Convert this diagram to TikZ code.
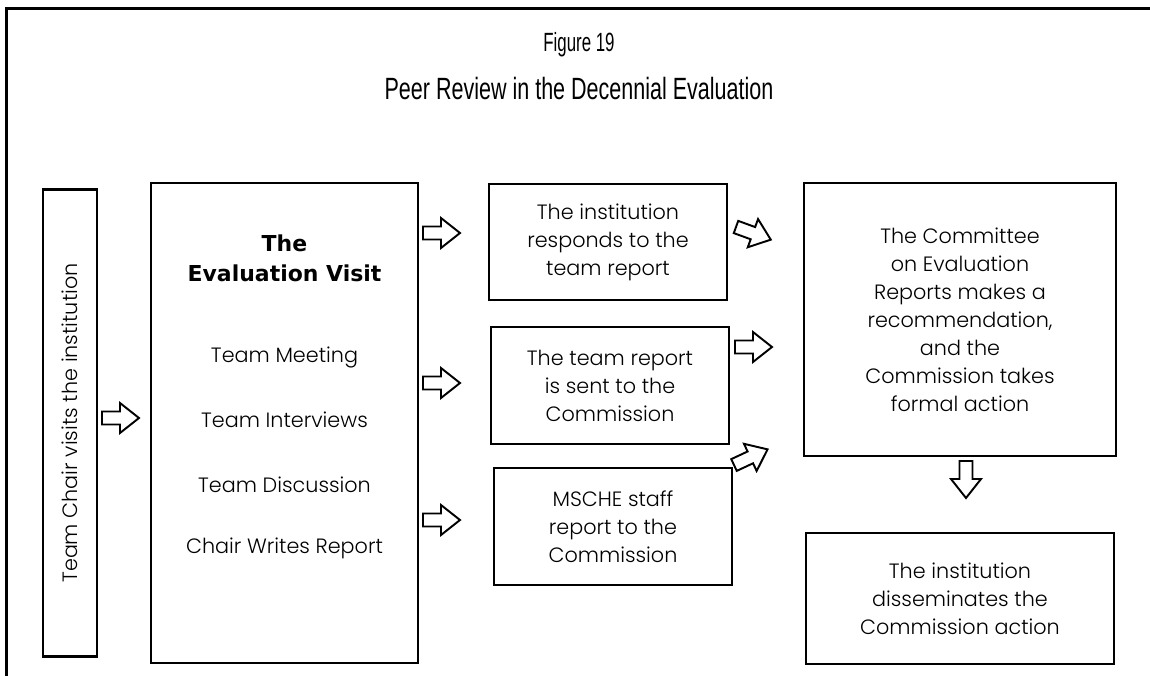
\documentclass[tikz,border=0pt]{standalone}
\usepackage{fontspec}
\setmainfont{Poppins}[UprightFont=* Light]
\newfontfamily\headfont{DejaVu Sans}
\newfontfamily\titlefont[FakeStretch=0.70]{Liberation Sans}
\newfontfamily\figfont[FakeStretch=0.64]{Liberation Sans}
\usetikzlibrary{calc}

\def\pu{0.02cm}
\tikzset{
  box/.style={draw, line width=1.4pt, align=center, inner sep=0pt,
    font=\fontsize{11.8}{15.9}\selectfont},
  item/.style={font=\fontsize{11.8}{15.9}\selectfont},
  hollow/.pic={\draw[line width=1.1pt, line join=miter]
    (0,-6.5) -- (18,-6.5) -- (18,-15) -- (37,0) -- (18,15) -- (18,6.5) -- (0,6.5) -- cycle;}
}

\begin{document}
\begin{tikzpicture}[x=0.02cm,y=-0.02cm]
\useasboundingbox (0,0) rectangle (1150,676);
% frame and headings
\draw[line width=1.7pt] (6.5,676) -- (6.5,8.5) -- (1150,8.5);
\node[font=\figfont\fontsize{15}{18}\selectfont] (fig) at (579,45) {Figure 19};
\node[font=\titlefont\fontsize{17.5}{20}\selectfont] (ttl) at (579,89) {Peer Review in the Decennial Evaluation};

% boxes
\node[box, rotate=90, minimum width=467*\pu, minimum height=54*\pu] (chair) at (70,423) {Team Chair visits the institution};
\node[box, minimum width=267*\pu, minimum height=480*\pu] (visit) at (284.5,423) {};
\node[align=center, font=\headfont\bfseries\fontsize{12.5}{17}\selectfont] (head) at (284.5,258) {The\\Evaluation Visit};
\foreach \t/\y/\n in {Team Meeting/357/meet, Team Interviews/420/inter, Team Discussion/485/disc, Chair Writes Report/548/write}
  \node[item] (\n) at (284.5,\y) {\t};

\node[box, minimum width=238*\pu, minimum height=116*\pu] (resp) at (608,242) {The institution\\responds to the\\team report};
\node[box, minimum width=238*\pu, minimum height=117*\pu] (sent) at (610,385.5) {The team report\\is sent to the\\Commission};
\node[box, minimum width=238*\pu, minimum height=117*\pu] (staff) at (613,526.5) {MSCHE staff\\report to the\\Commission};
\node[box, minimum width=312*\pu, minimum height=273*\pu] (cer) at (960,319.5) {The Committee\\on Evaluation\\Reports makes a\\recommendation,\\and the\\Commission takes\\formal action};
\node[box, minimum width=308*\pu, minimum height=131*\pu] (diss) at (960,598.5) {The institution\\disseminates the\\Commission action};

% block arrows
\pic at (102,418) {hollow};
\foreach \y in {233,383,520}
  \pic at (423,\y) {hollow};
\pic[rotate=-20] at (736,227) {hollow};
\pic at (735,347) {hollow};
\pic[rotate=25] at (734,465) {hollow};
\pic[rotate=-90] at (966,461) {hollow};
\end{tikzpicture}
\end{document}
